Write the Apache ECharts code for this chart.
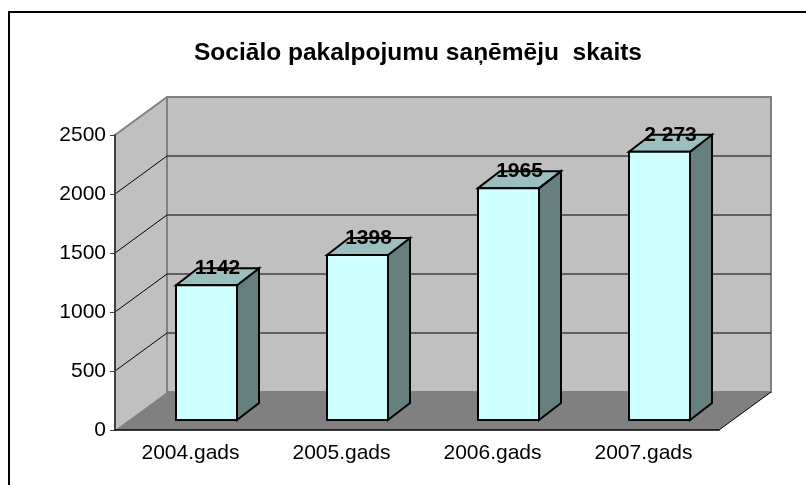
<!DOCTYPE html>
<html>
<head>
<meta charset="utf-8">
<style>
  html, body { margin: 0; padding: 0; background: #fff; }
  #chart { width: 806px; height: 485px; }
</style>
<script src="https://cdn.jsdelivr.net/npm/echarts@6/dist/echarts.min.js"></script>
</head>
<body>
<div id="chart"></div>
<script>
var categories = ['2004.gads', '2005.gads', '2006.gads', '2007.gads']
var values = [1142, 1398, 1965, 2273]
var valueLabels = ['1142', '1398', '1965', '2 273']
var wallTicks = [500, 1000, 1500, 2000]

// 3d look: how far the walls and the bars go back
var depthX = 52
var depthY = 38
var barShiftX = 16
var barShiftY = 10
var barDepthX = 22
var barDepthY = 17
var barWidth = 61

function poly (points, fill, stroke, width) {
  return {
    type: 'polygon',
    shape: { points: points },
    style: { fill: fill, stroke: stroke, lineWidth: width }
  }
}

function line (x1, y1, x2, y2, stroke, width) {
  return {
    type: 'line',
    shape: { x1: x1, y1: y1, x2: x2, y2: y2 },
    style: { stroke: stroke, lineWidth: width }
  }
}

function renderWalls (params, api) {
  var c = params.coordSys
  var l = c.x
  var r = c.x + c.width
  var t = c.y
  var b = c.y + c.height
  var kids = [
    poly([[l, b], [l + depthX, b - depthY], [l + depthX, t - depthY], [l, t]], '#c0c0c0', 'none', 0),
    poly([[l + depthX, t - depthY], [r + depthX, t - depthY], [r + depthX, b - depthY], [l + depthX, b - depthY]], '#c0c0c0', '#808080', 2),
    line(l, t, l + depthX, t - depthY, '#808080', 2),
    line(l + depthX, t - depthY, l + depthX, b - depthY, '#808080', 2)
  ]
  wallTicks.forEach(function (v) {
    var y = api.coord([0, v])[1]
    kids.push(line(l, y, l + depthX, y - depthY, '#000', 1))
    kids.push(line(l + depthX, y - depthY, r + depthX, y - depthY, '#404040', 1.5))
  })
  kids.push(poly([[l, b], [r, b], [r + depthX, b - depthY], [l + depthX, b - depthY]], '#808080', 'none', 0))
  kids.push(line(r, b, r + depthX, b - depthY, '#000', 1))
  return { type: 'group', children: kids }
}

function renderBar (params, api) {
  var top = api.coord([api.value(0), api.value(1)])
  var base = api.coord([api.value(0), 0])
  var x1 = top[0] + barShiftX - barWidth / 2
  var x2 = x1 + barWidth
  var y1 = top[1] - barShiftY
  var y2 = base[1] - barShiftY
  return {
    type: 'group',
    children: [
      poly([[x2, y1], [x2 + barDepthX, y1 - barDepthY], [x2 + barDepthX, y2 - barDepthY], [x2, y2]], '#668080', '#000', 2),
      poly([[x1, y1], [x1 + barDepthX, y1 - barDepthY], [x2 + barDepthX, y1 - barDepthY], [x2, y1]], '#99bfbf', '#000', 2),
      poly([[x1, y1], [x2, y1], [x2, y2], [x1, y2]], '#ccffff', '#000', 2),
      {
        type: 'text',
        style: {
          x: top[0] + barShiftX + 11,
          y: y1 - 17,
          text: valueLabels[params.dataIndex],
          fill: '#000',
          align: 'center',
          verticalAlign: 'middle',
          font: 'bold 21px "Liberation Sans"'
        }
      }
    ]
  }
}

var chart = echarts.init(document.getElementById('chart'), null, { renderer: 'canvas' })

chart.setOption({
  animation: false,
  backgroundColor: '#fff',
  textStyle: { fontFamily: 'Liberation Sans' },
  title: {
    text: 'Sociālo pakalpojumu saņēmēju  skaits',
    left: 413,
    top: 36,
    textAlign: 'center',
    textStyle: { fontFamily: 'Liberation Sans', fontSize: 24.5, fontWeight: 'bold', color: '#000' }
  },
  // only the left and top edge of the frame are in the picture
  graphic: [
    { type: 'line', shape: { x1: 9, y1: 11, x2: 9, y2: 485 }, style: { stroke: '#000', lineWidth: 2 } },
    { type: 'line', shape: { x1: 8, y1: 12, x2: 806, y2: 12 }, style: { stroke: '#000', lineWidth: 2 } }
  ],
  grid: { left: 115, top: 135, width: 604, height: 295 },
  xAxis: {
    type: 'category',
    data: categories,
    z: 10,
    axisLine: { lineStyle: { color: '#000', width: 1.5 } },
    axisTick: { length: 5, lineStyle: { color: '#808080', width: 2 } },
    axisLabel: { color: '#000', fontSize: 21, margin: 13, fontFamily: 'Liberation Sans' }
  },
  yAxis: {
    type: 'value',
    min: 0,
    max: 2500,
    interval: 500,
    z: 10,
    splitLine: { show: false },
    axisLine: { show: true, lineStyle: { color: '#404040', width: 2 } },
    axisTick: { show: true, length: 5, lineStyle: { color: '#404040', width: 1 } },
    axisLabel: {
      color: '#000',
      fontSize: 21,
      margin: 9,
      fontFamily: 'Liberation Sans',
      formatter: function (v) { return String(v) }
    }
  },
  series: [
    {
      type: 'custom',
      coordinateSystem: 'cartesian2d',
      renderItem: renderWalls,
      data: [[0, 0]],
      silent: true,
      clip: false,
      z: 1
    },
    {
      type: 'custom',
      coordinateSystem: 'cartesian2d',
      renderItem: renderBar,
      encode: { x: 0, y: 1 },
      data: values.map(function (v, i) { return [i, v] }),
      clip: false,
      z: 2
    }
  ]
})
</script>
</body>
</html>
